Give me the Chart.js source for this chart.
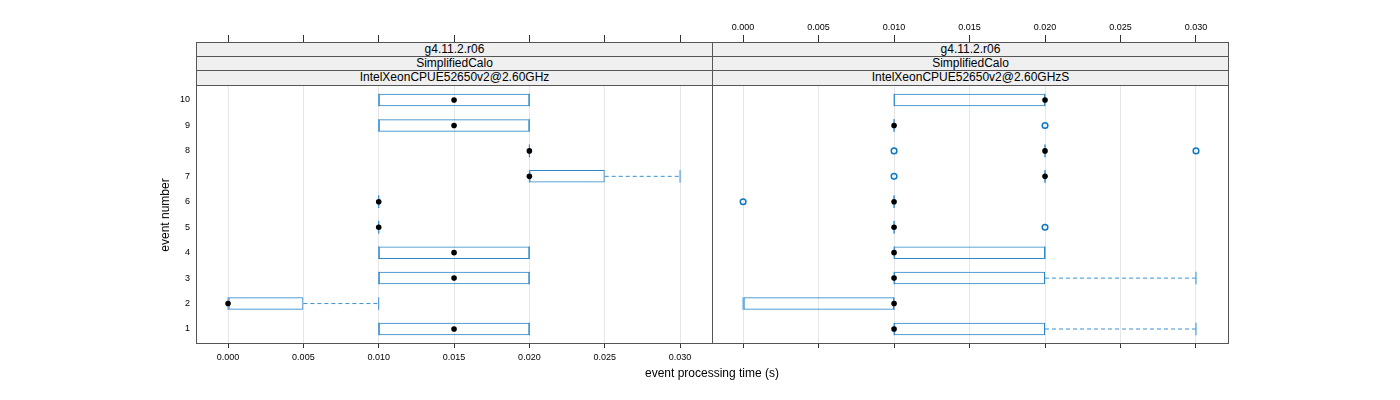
<!DOCTYPE html>
<html><head><meta charset="utf-8">
<script src="https://cdn.jsdelivr.net/npm/chart.js@4.4.1/dist/chart.umd.min.js"></script>
<style>
html,body{margin:0;padding:0;background:#fff}
body{width:1400px;height:400px;position:relative;overflow:hidden;font-family:"Liberation Sans",Arial,Helvetica,sans-serif;color:#000}
canvas{position:absolute;top:0}
.strip{position:absolute;box-sizing:border-box;background:#efefef;border:1px solid #555;font-size:12px;line-height:13px;text-align:center;white-space:nowrap;overflow:hidden}
.title{position:absolute;font-size:12px;line-height:14px;text-align:center;white-space:nowrap}
</style></head><body>
<canvas id="cA" style="left:0px" width="713" height="400"></canvas>
<canvas id="cB" style="left:712px" width="688" height="400"></canvas>
<div id="strips"></div>
<div class="title" style="left:512px;top:366px;width:400px">event processing time (s)</div>
<div class="title" style="left:65px;top:208px;width:200px;transform:rotate(-90deg)">event number</div>
<script>
// ---------- data ----------
const events = [1, 2, 3, 4, 5, 6, 7, 8, 9, 10];
const xTicks = [0.000, 0.005, 0.010, 0.015, 0.020, 0.025, 0.030];
const xTickLabels = ['0.000', '0.005', '0.010', '0.015', '0.020', '0.025', '0.030'];
const stripLeft = ['g4.11.2.r06', 'SimplifiedCalo', 'IntelXeonCPUE52650v2@2.60GHz'];
const stripRight = ['g4.11.2.r06', 'SimplifiedCalo', 'IntelXeonCPUE52650v2@2.60GHzS'];

// left panel (IntelXeonCPUE52650v2@2.60GHz), per event 1..10
const leftLow    = [0.010, 0.000, 0.010, 0.010, 0.010, 0.010, 0.020, 0.020, 0.010, 0.010];
const leftQ1     = [0.010, 0.000, 0.010, 0.010, 0.010, 0.010, 0.020, 0.020, 0.010, 0.010];
const leftMedian = [0.015, 0.000, 0.015, 0.015, 0.010, 0.010, 0.020, 0.020, 0.015, 0.015];
const leftQ3     = [0.020, 0.005, 0.020, 0.020, 0.010, 0.010, 0.025, 0.020, 0.020, 0.020];
const leftHigh   = [0.020, 0.010, 0.020, 0.020, 0.010, 0.010, 0.030, 0.020, 0.020, 0.020];
const leftOutEvent = [];
const leftOutTime  = [];

// right panel (IntelXeonCPUE52650v2@2.60GHzS)
const rightLow    = [0.010, 0.000, 0.010, 0.010, 0.010, 0.010, 0.020, 0.020, 0.010, 0.010];
const rightQ1     = [0.010, 0.000, 0.010, 0.010, 0.010, 0.010, 0.020, 0.020, 0.010, 0.010];
const rightMedian = [0.010, 0.010, 0.010, 0.010, 0.010, 0.010, 0.020, 0.020, 0.010, 0.020];
const rightQ3     = [0.020, 0.010, 0.020, 0.020, 0.010, 0.010, 0.020, 0.020, 0.010, 0.020];
const rightHigh   = [0.030, 0.010, 0.030, 0.020, 0.010, 0.010, 0.020, 0.020, 0.010, 0.020];
const rightOutEvent = [5, 6, 7, 8, 8, 9];
const rightOutTime  = [0.020, 0.000, 0.010, 0.010, 0.030, 0.020];

// ---------- layout / style ----------
const X_MIN = -0.00206, X_MAX = 0.03212, Y_MIN = 0.45, Y_MAX = 10.55;
const BOX = '#2a86c8', WHISK = '#3a90d2', OUT = '#0b78c2';
Chart.defaults.font.family = '"Liberation Sans", Arial, Helvetica, sans-serif';
Chart.defaults.color = '#000';

// strips
const stripBox = document.getElementById('strips');
[[196, stripLeft], [712, stripRight]].forEach(([left, texts]) => {
  const tops = [42, 56, 70], hs = [15, 15, 16];
  texts.forEach((t, k) => {
    const d = document.createElement('div');
    d.className = 'strip';
    d.style.left = left + 'px'; d.style.width = '517px';
    d.style.top = tops[k] + 'px'; d.style.height = hs[k] + 'px';
    d.textContent = t;
    stripBox.appendChild(d);
  });
});

const framePlugin = {
  id: 'frame',
  afterDraw(chart) {
    const {ctx, chartArea: a} = chart;
    ctx.save();
    ctx.strokeStyle = '#555';
    ctx.lineWidth = 1;
    ctx.strokeRect(a.left - 0.5, a.top - 0.5, a.right - a.left + 1, a.bottom - a.top + 1);
    ctx.restore();
  }
};

function whisker(a, b, e) {
  return {type: 'line', order: 3, indexAxis: 'x', data: [{x: a, y: e}, {x: b, y: e}],
    borderColor: WHISK, borderWidth: 1, borderDash: [4, 3], pointRadius: 0, fill: false};
}

function buildDatasets(low, q1, med, q3, high, outEv, outT) {
  const ds = [];
  ds.push({type: 'scatter', order: 0, indexAxis: 'x', data: events.map((e, i) => ({x: med[i], y: e})),
    pointRadius: 2.8, pointBackgroundColor: '#000', pointBorderColor: '#000', pointBorderWidth: 0});
  ds.push({type: 'scatter', order: 1, indexAxis: 'x', data: outEv.map((e, i) => ({x: outT[i], y: e})),
    pointRadius: 2.8, pointBackgroundColor: 'rgba(0,0,0,0)', pointBorderColor: OUT, pointBorderWidth: 1.5});
  ds.push({type: 'scatter', order: 2, indexAxis: 'x',
    data: events.flatMap((e, i) => [{x: low[i], y: e}, {x: high[i], y: e}]),
    pointStyle: 'line', pointRotation: 90, pointRadius: 6.3, pointBorderColor: WHISK, pointBorderWidth: 1});
  events.forEach((e, i) => {
    if (high[i] > q3[i]) ds.push(whisker(q3[i], high[i], e));
    if (low[i] < q1[i]) ds.push(whisker(low[i], q1[i], e));
  });
  ds.push({type: 'bar', order: 4, indexAxis: 'y', data: events.map((e, i) => ({x: [q1[i], q3[i]], y: e})),
    barThickness: 12.5, borderColor: BOX, borderWidth: 1, backgroundColor: 'rgba(0,0,0,0)',
    borderSkipped: false, inflateAmount: 0});
  return ds;
}

function noPad(s) { s.paddingLeft = 0; s.paddingRight = 0; s.paddingTop = 0; s.paddingBottom = 0; }

function makePanel(id, datasets, isLeft) {
  const setTicks = s => { s.ticks = xTicks.map(v => ({value: v})); };
  const scales = {
    x: {
      type: 'linear', position: 'bottom', min: X_MIN, max: X_MAX,
      afterBuildTicks: setTicks,
      ticks: {autoSkip: false, maxRotation: 0, padding: 4, font: {size: 9}, color: '#000',
        callback: (v, i) => isLeft ? xTickLabels[i] : ''},
      grid: {color: '#e6e6e6', lineWidth: 1, tickColor: '#333', tickLength: 5, drawTicks: true},
      border: {display: false},
      afterFit: s => { s.height = 57; noPad(s); }
    },
    x2: {
      type: 'linear', axis: 'x', position: 'top', min: X_MIN, max: X_MAX,
      afterBuildTicks: setTicks,
      ticks: {autoSkip: false, maxRotation: 0, padding: 2, font: {size: 9}, color: '#000',
        callback: (v, i) => isLeft ? '' : xTickLabels[i]},
      grid: {drawOnChartArea: false, tickColor: '#333', tickLength: 51, drawTicks: true},
      border: {display: false},
      afterFit: s => { s.height = 86; noPad(s); }
    },
    y: {
      type: 'linear', position: 'left', min: Y_MIN, max: Y_MAX, offset: false,
      display: isLeft,
      afterBuildTicks: s => { s.ticks = events.map(v => ({value: v})); },
      ticks: {padding: 7, font: {size: 9}, color: '#000', autoSkip: false, callback: v => String(v)},
      grid: {display: false, drawTicks: false, offset: false},
      border: {display: false},
      afterFit: s => { s.width = isLeft ? 197 : 0; noPad(s); }
    }
  };
  return new Chart(document.getElementById(id), {
    type: 'bar',
    data: {datasets},
    options: {
      indexAxis: 'y',
      responsive: false, animation: false, devicePixelRatio: 1, events: [],
      layout: {autoPadding: false,
        padding: isLeft ? {left: 0, right: 1, top: 0, bottom: 0} : {left: 0, right: 172, top: 0, bottom: 0}},
      plugins: {legend: {display: false}, tooltip: {enabled: false}},
      scales
    },
    plugins: [framePlugin]
  });
}

makePanel('cA', buildDatasets(leftLow, leftQ1, leftMedian, leftQ3, leftHigh, leftOutEvent, leftOutTime), true);
makePanel('cB', buildDatasets(rightLow, rightQ1, rightMedian, rightQ3, rightHigh, rightOutEvent, rightOutTime), false);
</script>
</body></html>
